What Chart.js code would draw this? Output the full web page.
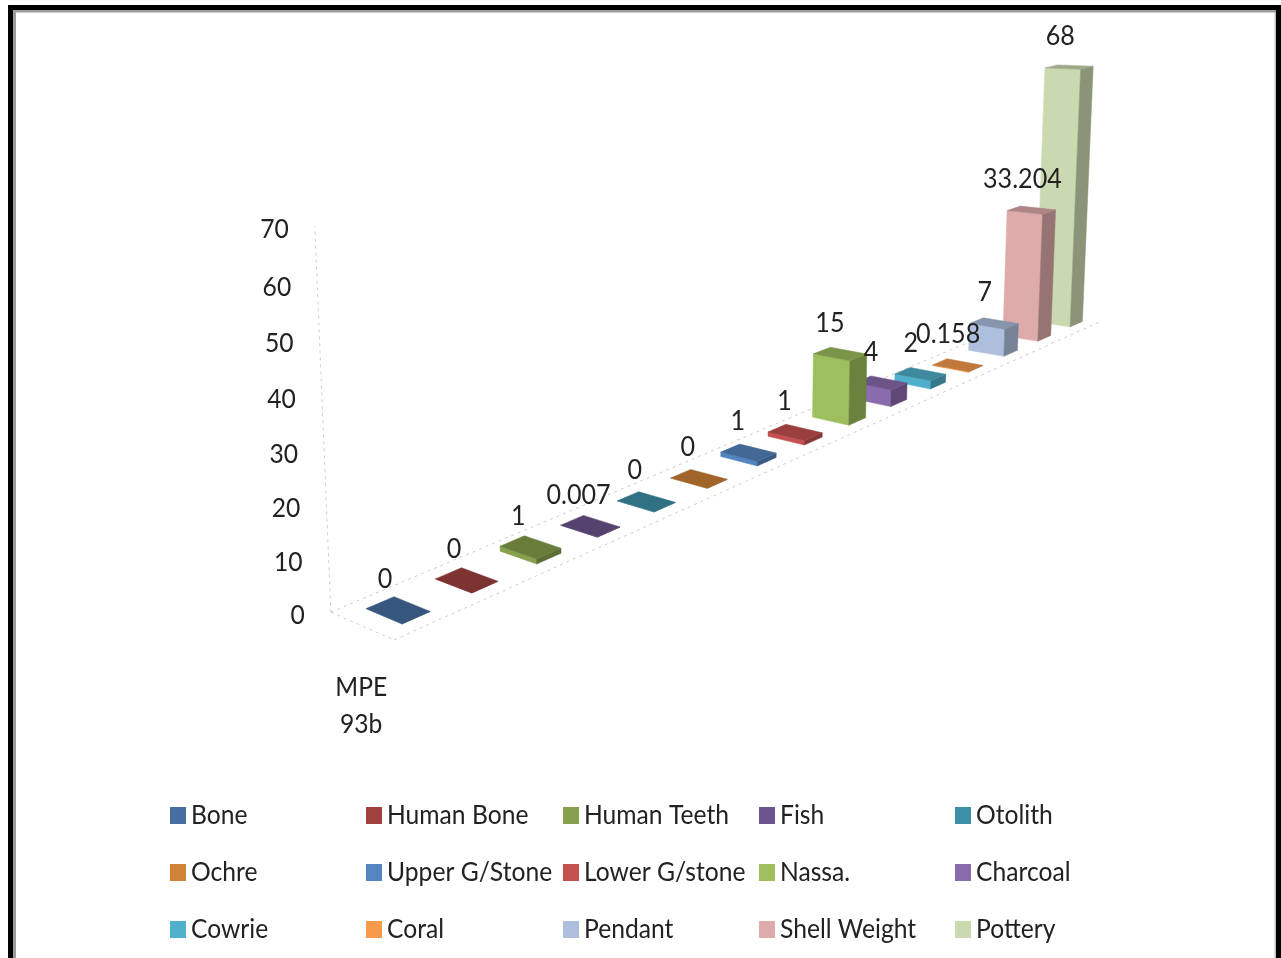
<!DOCTYPE html>
<html>
<head>
<meta charset="utf-8">
<title>MPE 93b</title>
<script src="https://cdn.jsdelivr.net/npm/chart.js"></script>
<style>
    html, body { margin: 0; padding: 0; background: #fff; overflow: hidden; width: 1281px; height: 958px; }
    .frame {
        position: absolute; left: 8px; top: 5px; width: 1273px; height: 1000px;
        box-sizing: border-box; border: 5.5px solid #000; border-bottom: 0;
        box-shadow: inset 3px 2.5px 0 #9c9c9c, inset -1.5px 0 0 #c0c0c0;
    }
    canvas { position: absolute; left: 0; top: 0; filter: blur(0.4px); }
</style>
</head>
<body>
<div class="frame"></div>
<canvas id="artefactChart" width="1281" height="958"></canvas>
<script>
// Chart data
const categories = ['Bone', 'Human Bone', 'Human Teeth', 'Fish', 'Otolith', 'Ochre', 'Upper G/Stone', 'Lower G/stone',
    'Nassa.', 'Charcoal', 'Cowrie', 'Coral', 'Pendant', 'Shell Weight', 'Pottery'];
const values = [0, 0, 1, 0.007, 0, 0, 1, 1, 15, 4, 2, 0.158, 7, 33.204, 68];
const colors = ['#466EA1', '#A04140', '#86A04C', '#6E548D', '#3C90A8', '#CF8238', '#5585C0', '#C55050',
    '#9DBF5D', '#8A6BAE', '#4FB0CB', '#F79A4C', '#ADBFDC', '#DEABAB', '#CBD9B0'];
const groupLabel = ['MPE', '93b'];
const yMax = 70;
const yStep = 10;

// Perspective of the 3D view: depth d (category index), lateral w (-1..1 over a bar), height z (axis value)
const view = {
    origin: [398, 610],
    depth: [71, -31],
    lateral: [18, 7.5],
    rise: [-0.18, -5.3],
    perspD: 0.036,
    perspW: -0.012,
    perspZ: -0.0006,
    barDepth: 0.197,
    floorWidth: 1.77
};
const FONT = 'Lato, Carlito, sans-serif';

function project(d, w, z) {
    const den = 1 + view.perspD * d + view.perspW * w + view.perspZ * z;
    return {
        x: view.origin[0] + (view.depth[0] * d + view.lateral[0] * w + view.rise[0] * z) / den,
        y: view.origin[1] + (view.depth[1] * d + view.lateral[1] * w + view.rise[1] * z) / den
    };
}

function shade(hex, f) {
    const n = parseInt(hex.slice(1), 16);
    const r = Math.round((n >> 16) * f);
    const g = Math.round(((n >> 8) & 255) * f);
    const b = Math.round((n & 255) * f);
    return `rgb(${r},${g},${b})`;
}

function face(ctx, pts, fill) {
    ctx.beginPath();
    pts.forEach((p, i) => i ? ctx.lineTo(p.x, p.y) : ctx.moveTo(p.x, p.y));
    ctx.closePath();
    ctx.fillStyle = fill;
    ctx.strokeStyle = fill;
    ctx.lineWidth = 0.5;
    ctx.fill();
    ctx.stroke();
}

// text is narrowed a little, the original is a squeezed Calibri
function label(ctx, text, x, y, align, size) {
    ctx.save();
    ctx.translate(x, y);
    ctx.scale(0.93, 1);
    ctx.font = `${size}px ${FONT}`;
    ctx.fillStyle = '#222';
    ctx.textAlign = align;
    ctx.textBaseline = 'middle';
    ctx.fillText(text, 0, 0);
    ctx.restore();
}

function dashedLine(ctx, a, b) {
    ctx.beginPath();
    ctx.moveTo(a.x, a.y);
    ctx.lineTo(b.x, b.y);
    ctx.stroke();
}

function drawFloorAndAxis(chart) {
    const ctx = chart.ctx;
    const yScale = chart.scales.y;
    const first = -0.5;
    const last = chart.data.labels.length - 0.7;
    const fw = view.floorWidth;

    ctx.save();
    ctx.strokeStyle = '#cdcdcd';
    ctx.lineWidth = 1;
    ctx.setLineDash([3, 4]);
    dashedLine(ctx, project(first, -fw, 0), project(first, fw, 0));
    dashedLine(ctx, project(first, -fw, 0), project(last, -fw, 0));
    dashedLine(ctx, project(first, fw, 0), project(last, fw, 0));
    dashedLine(ctx, project(first, -fw, 0), project(first, -fw, yScale.max));
    ctx.restore();

    yScale.ticks.forEach(tick => {
        const p = project(first, -fw, tick.value);
        label(ctx, String(tick.value), p.x - 26, p.y + 3.5, 'right', 26.5);
    });

    const corner = project(first, fw, 0);
    groupLabel.forEach((text, i) => {
        label(ctx, text, corner.x - 33, corner.y + 48 + i * 37, 'center', 26.5);
    });
}

function barGeometry(chart, bar) {
    const xScale = chart.scales.x;
    const yScale = chart.scales.y;
    const step = xScale.getPixelForValue(1) - xScale.getPixelForValue(0);
    return {
        d: (bar.x - xScale.getPixelForValue(0)) / step,
        z: yScale.getValueForPixel(bar.y)
    };
}

function drawBar(ctx, d, z, color) {
    const dd = view.barDepth;
    const a = project(d - dd, -1, 0);
    const b = project(d - dd, 1, 0);
    const c = project(d + dd, 1, 0);
    const at = project(d - dd, -1, z);
    const bt = project(d - dd, 1, z);
    const ct = project(d + dd, 1, z);
    const dt = project(d + dd, -1, z);
    face(ctx, [a, b, bt, at], color);
    face(ctx, [b, c, ct, bt], shade(color, 0.68));
    face(ctx, [at, bt, ct, dt], shade(color, 0.78));
}

function drawLegend(chart) {
    const ctx = chart.ctx;
    const columns = [170, 366, 563, 759, 955];
    const rows = [815, 872, 929];
    chart.data.labels.forEach((text, i) => {
        const x = columns[i % columns.length];
        const y = rows[Math.floor(i / columns.length)];
        ctx.fillStyle = colors[i];
        ctx.fillRect(x, y - 8, 16, 17);
        label(ctx, text, x + 21, y, 'left', 26.5);
    });
}

const perspectiveBars = {
    id: 'perspectiveBars',
    // the flat bars of the library only give the geometry, they are redrawn in 3D
    beforeDatasetDraw(chart) {
        const ctx = chart.ctx;
        const bars = chart.getDatasetMeta(0).data;
        drawFloorAndAxis(chart);
        // far bars first, so that near bars cover them
        for (let i = bars.length - 1; i >= 0; i--) {
            const g = barGeometry(chart, bars[i]);
            drawBar(ctx, g.d, g.z, colors[i]);
        }
        bars.forEach((bar, i) => {
            const g = barGeometry(chart, bar);
            const top = project(g.d, 0, g.z);
            const scale = 1 / (1 + view.perspD * g.d);
            label(ctx, String(values[i]), top.x - 13 * scale, top.y - 31, 'center', 27);
        });
        drawLegend(chart);
        return false;
    }
};

new Chart(document.getElementById('artefactChart'), {
    type: 'bar',
    data: {
        labels: categories,
        datasets: [{
            label: groupLabel.join(' '),
            data: values,
            backgroundColor: colors
        }]
    },
    options: {
        responsive: false,
        animation: false,
        plugins: {
            legend: { display: false },
            tooltip: { enabled: false }
        },
        scales: {
            x: { display: false },
            y: { display: false, min: 0, max: yMax, ticks: { stepSize: yStep } }
        }
    },
    plugins: [perspectiveBars]
});
</script>
</body>
</html>
